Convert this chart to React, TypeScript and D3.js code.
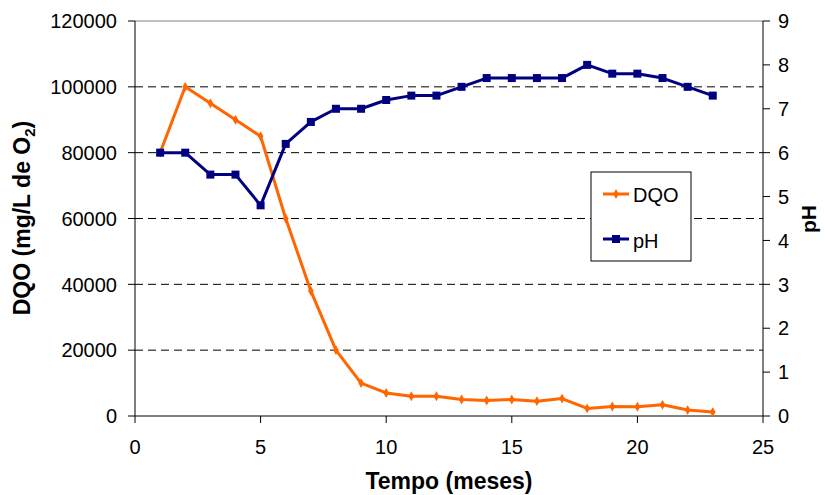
import React from "react";
import * as d3 from "d3";

const months = [1, 2, 3, 4, 5, 6, 7, 8, 9, 10, 11, 12, 13, 14, 15, 16, 17, 18, 19, 20, 21, 22, 23];
const dqo = [80000, 100000, 95000, 90000, 85000, 60000, 38000, 20000, 10000, 7000, 6000, 6000, 5000, 4700, 5000, 4500, 5300, 2300, 2900, 2800, 3400, 1800, 1200];
const ph = [6.0, 6.0, 5.5, 5.5, 4.8, 6.2, 6.7, 7.0, 7.0, 7.2, 7.3, 7.3, 7.5, 7.7, 7.7, 7.7, 7.7, 8.0, 7.8, 7.8, 7.7, 7.5, 7.3];

const xTicks = [0, 5, 10, 15, 20, 25];
const leftTicks = [0, 20000, 40000, 60000, 80000, 100000, 120000];
const rightTicks = [0, 1, 2, 3, 4, 5, 6, 7, 8, 9];

const W = 825;
const H = 495;
const left = 135;
const right = 763;
const top = 21;
const bottom = 416;
const font = "'Liberation Sans', Arial, sans-serif";
const orange = "#FF6600";
const navy = "#000080";

export default function App() {
  const x = d3.scaleLinear().domain([0, 25]).range([left, right]);
  const yL = d3.scaleLinear().domain([0, 120000]).range([bottom, top]);
  const yR = d3.scaleLinear().domain([0, 9]).range([bottom, top]);

  const lineL = d3.line<number>().x((_, i) => x(months[i])).y((d) => yL(d));
  const lineR = d3.line<number>().x((_, i) => x(months[i])).y((d) => yR(d));
  const diamond = d3.symbol(d3.symbolDiamond, 28)() ?? "";

  return (
    <svg width={W} height={H} style={{ position: "absolute", left: 0, top: 0 }} fontFamily={font}>
      <rect width={W} height={H} fill="#fff" />
      {/* horizontal gridlines */}
      {leftTicks.slice(1, -1).map((t) => (
        <line key={t} x1={left} x2={right} y1={yL(t)} y2={yL(t)} stroke="#000" strokeWidth={1} strokeDasharray="8,5" />
      ))}
      <line x1={left} x2={right} y1={top} y2={top} stroke="#808080" strokeWidth={1} />
      {/* axes */}
      <line x1={left} x2={left} y1={top} y2={bottom} stroke="#000" />
      <line x1={right} x2={right} y1={top} y2={bottom} stroke="#000" />
      <line x1={left} x2={right} y1={bottom} y2={bottom} stroke="#000" />
      {leftTicks.map((t) => (
        <g key={t}>
          <line x1={left - 7} x2={left} y1={yL(t)} y2={yL(t)} stroke="#000" />
          <text x={117} y={yL(t)} dy="0.36em" textAnchor="end" fontSize={20}>{t}</text>
        </g>
      ))}
      {rightTicks.map((t) => (
        <g key={t}>
          <line x1={right} x2={right + 7} y1={yR(t)} y2={yR(t)} stroke="#000" />
          <text x={right + 15} y={yR(t)} dy="0.36em" textAnchor="start" fontSize={20}>{t}</text>
        </g>
      ))}
      {xTicks.map((t) => (
        <g key={t}>
          <line x1={x(t)} x2={x(t)} y1={bottom} y2={bottom + 7} stroke="#000" />
          <text x={x(t)} y={454} textAnchor="middle" fontSize={20}>{t}</text>
        </g>
      ))}
      {/* series */}
      <path d={lineL(dqo) ?? ""} fill="none" stroke={orange} strokeWidth={3} strokeLinejoin="round" />
      {dqo.map((d, i) => (
        <path key={i} d={diamond} transform={`translate(${x(months[i])},${yL(d)})`} fill={orange} />
      ))}
      <path d={lineR(ph) ?? ""} fill="none" stroke={navy} strokeWidth={3} strokeLinejoin="round" />
      {ph.map((d, i) => (
        <rect key={i} x={x(months[i]) - 4} y={yR(d) - 4} width={8} height={8} fill={navy} />
      ))}
      {/* legend */}
      <rect x={591} y={172} width={100} height={89} fill="#fff" stroke="#000" />
      <line x1={603} x2={629} y1={194} y2={194} stroke={orange} strokeWidth={3} />
      <path d={diamond} transform="translate(616,194)" fill={orange} />
      <text x={633} y={195} dy="0.36em" fontSize={20}>DQO</text>
      <line x1={603} x2={629} y1={239} y2={239} stroke={navy} strokeWidth={3} />
      <rect x={612} y={235} width={8} height={8} fill={navy} />
      <text x={633} y={241} dy="0.36em" fontSize={20}>pH</text>
      {/* axis titles */}
      <text x={(left + right) / 2} y={489} textAnchor="middle" fontSize={23} fontWeight="bold">Tempo (meses)</text>
      <text transform="translate(30,218) rotate(-90)" textAnchor="middle" fontSize={23} fontWeight="bold">
        DQO (mg/L de O<tspan fontSize={15} dy={5}>2</tspan><tspan dy={-5}>)</tspan>
      </text>
      <text transform="translate(816,219) rotate(-90)" textAnchor="middle" fontSize={21} fontWeight="bold">pH</text>
    </svg>
  );
}
